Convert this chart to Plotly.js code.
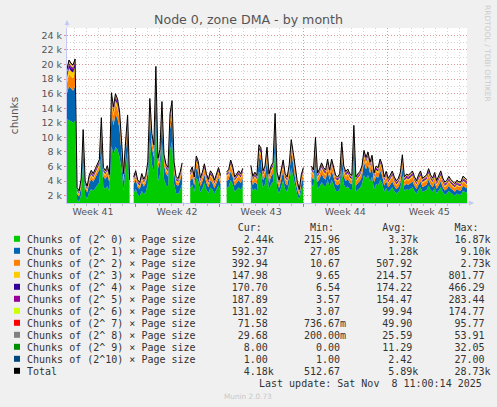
<!DOCTYPE html>
<html><head><meta charset="utf-8">
<script src="https://cdn.plot.ly/plotly-3.0.1.min.js"></script>
<style>html,body{margin:0;padding:0;background:#F0F0F0;}#chart{width:497px;height:407px;}</style>
</head><body><div id="chart"></div>
<script>
const seriesNames = ['Chunks of (2^ 0) × Page size','Chunks of (2^ 1) × Page size','Chunks of (2^ 2) × Page size','Chunks of (2^ 3) × Page size','Chunks of (2^ 4) × Page size','Chunks of (2^ 5) × Page size','Chunks of (2^ 6) × Page size','Chunks of (2^ 7) × Page size','Chunks of (2^ 8) × Page size','Chunks of (2^ 9) × Page size','Chunks of (2^10) × Page size','Total'];
const seriesColors = ['#00CC00','#0066B3','#FF8000','#FFCC00','#330099','#990099','#CCFF00','#FF0000','#808080','#008F00','#00487D','#000000'];

const c0 = [12500,12400,12200,12000,12300,1440,1180,2180,6700,1980,
1580,2520,2920,2650,3050,3520,3860,7820,3190,2920,
3320,2580,8800,7660,8670,8290,7350,5650,2650,5580,
8100,2110,null,2380,2920,2110,1910,2650,2180,2520,
3650,9640,6350,5300,12650,3990,4880,9360,4320,3450,
3190,8240,9430,3650,2380,2250,2780,3590,null,null,
null,3060,3490,2560,4480,3980,2490,2990,3770,2850,
2360,3130,2850,2280,2850,3420,2710,null,null,3060,
3200,4130,3560,2560,2850,3140,2850,3340,null,null,
null,3630,2630,2990,2710,5300,5020,3140,3560,5090,
2850,3560,3910,8240,2990,2280,3200,4130,2850,2560,
3700,5790,4600,3200,2140,1430,2780,3420,null,null,
null,3560,3200,6000,2920,3270,3850,3420,3200,4200,
3200,4200,3560,2710,2560,2850,5580,3560,3070,3270,
2850,2710,7120,2560,2850,3070,3560,4810,4340,4840,
3910,4560,2920,3560,3420,4200,3700,2560,3070,2510,
2800,3160,2660,2290,2510,3020,4700,2660,2870,2800,
2950,3160,2660,2290,2800,3160,2510,2660,2800,3390,
2800,2510,3020,2290,2660,3160,2510,2140,2290,2660,
2370,2140,2000,2290,2140,2140,2660,2510,2440];

const c1 = [3600,4600,4500,4400,4700,800,700,1080,2420,1000,
850,1200,1350,1250,1400,1580,1700,2770,1450,1350,
1500,1230,4500,4000,4450,4280,3860,2090,1250,2070,
2860,1050,null,1150,1350,1050,980,1250,1080,1200,
1630,3340,2310,1980,4290,1750,1850,3260,1880,1550,
1450,2900,3280,1630,1150,1100,1300,1600,null,null,
null,950,1060,830,1310,1190,810,940,1130,900,
770,970,900,760,900,1040,860,null,null,950,
990,1220,1080,830,900,970,900,1030,null,null,
null,1100,850,940,860,1980,1890,970,1080,1910,
900,1080,1170,2900,940,760,990,1220,900,830,
1120,2130,1760,990,720,540,880,1040,null,null,
null,1080,990,2200,920,1010,1150,1040,990,1240,
990,1240,1080,860,830,900,2070,1080,950,1010,
900,860,2550,830,900,950,1080,1830,1280,1400,
1170,1330,920,1080,1040,1240,1120,830,950,660,
720,800,690,620,660,770,1300,690,740,720,
750,800,690,620,720,800,660,690,720,840,
720,660,770,620,690,800,660,590,620,690,
630,590,560,620,590,590,690,660,592];

const c2 = [1400,1700,1600,1700,1900,260,220,340,880,320,
270,380,430,400,450,500,540,1010,460,430,
480,390,1450,1290,1430,1380,1240,760,400,750,
1040,340,null,370,430,340,310,400,340,380,
520,1220,840,720,1560,560,670,1180,600,500,
460,1060,1190,520,370,350,420,510,null,null,
null,580,650,510,800,730,500,570,690,550,
470,590,550,460,550,640,530,null,null,580,
610,750,660,510,550,590,550,630,null,null,
null,670,520,570,530,720,690,590,660,700,
550,660,720,1060,570,460,610,750,550,510,
680,780,640,610,440,330,540,640,null,null,
null,660,610,800,560,620,700,640,610,760,
610,760,660,530,510,550,750,660,580,620,
550,530,930,510,550,580,660,660,780,860,
720,810,560,660,640,760,680,510,580,530,
580,640,550,490,530,610,700,550,590,580,
600,640,550,490,580,640,530,550,580,670,
580,530,610,490,550,640,530,470,490,550,
500,470,440,490,470,470,550,530,393];

const c3 = [780,800,760,790,740,190,170,210,350,200,
180,220,240,230,250,270,260,360,240,230,
250,210,500,450,520,480,420,330,220,320,
360,200,null,210,230,190,180,220,200,210,
260,380,330,310,420,270,300,370,280,250,
240,360,380,260,210,200,220,250,null,null,
null,220,240,200,280,260,200,220,250,210,
190,220,210,180,210,240,200,null,null,220,
230,260,240,200,210,220,210,230,null,null,
null,240,200,220,200,320,310,220,240,310,
210,240,250,360,220,180,230,260,210,200,
240,320,300,220,180,150,210,230,null,null,
null,240,220,330,210,230,250,230,220,260,
220,260,240,200,190,210,320,240,220,230,
210,200,350,190,210,220,240,300,270,290,
250,280,210,240,230,260,240,190,220,180,
200,220,190,170,180,210,280,190,200,200,
210,220,190,170,200,220,180,190,200,230,
200,180,210,170,190,220,180,160,170,190,
170,160,150,170,160,160,190,180,148];

const c4 = [440,460,450,430,455,150,140,170,260,160,
150,180,190,180,200,210,200,270,190,180,
200,170,330,300,350,320,280,240,180,240,
260,160,null,170,180,160,150,180,160,170,
200,280,250,240,300,210,230,270,220,200,
190,260,280,200,170,160,180,200,null,null,
null,170,180,160,200,190,160,170,190,170,
150,170,170,150,170,180,160,null,null,170,
180,190,180,160,170,170,170,180,null,null,
null,180,160,170,160,240,230,170,180,230,
170,180,190,260,170,150,180,190,170,160,
180,240,220,170,150,130,170,180,null,null,
null,180,170,240,170,180,190,180,170,190,
170,190,180,160,160,170,240,180,170,180,
170,160,250,160,170,170,180,220,200,210,
190,200,170,180,180,190,180,160,170,160,
170,180,160,150,160,170,210,160,170,170,
170,180,160,150,170,180,160,160,170,180,
170,160,170,150,160,180,160,150,150,160,
160,150,150,160,150,150,170,165,171];

const c5 = [270,280,275,265,283,130,120,140,200,140,
130,150,160,150,160,170,170,210,160,150,
170,150,240,220,250,230,210,190,150,190,
200,140,null,140,150,140,130,150,140,150,
170,210,200,190,230,170,180,210,180,170,
160,200,210,170,150,140,150,170,null,null,
null,150,160,140,170,160,140,150,160,150,
140,150,150,130,150,160,140,null,null,150,
150,160,160,140,150,150,150,160,null,null,
null,160,140,150,140,190,190,150,160,190,
150,160,160,210,150,140,150,160,150,140,
160,190,180,150,140,120,150,160,null,null,
null,160,150,190,150,160,170,160,150,170,
150,170,160,150,150,150,190,160,150,160,
150,150,200,150,150,160,160,180,170,180,
170,170,160,160,160,170,160,150,160,160,
160,170,160,150,160,170,190,160,170,170,
170,180,160,150,170,180,160,170,170,180,
170,160,180,160,170,180,170,160,170,180,
170,170,160,170,170,170,180,180,188];

const c6 = [165,170,175,168,172,80,75,90,130,90,
85,95,100,95,100,110,105,130,100,95,
105,95,150,140,155,145,135,120,95,120,
130,90,null,90,95,90,85,95,90,95,
110,135,125,120,145,105,115,135,110,105,
100,130,135,110,95,90,95,105,null,null,
null,95,100,90,110,105,90,95,100,95,
90,95,95,85,95,100,90,null,null,95,
95,100,100,90,95,95,95,100,null,null,
null,100,90,95,90,120,120,95,100,120,
95,100,100,130,95,90,95,100,95,90,
100,120,115,95,90,80,95,100,null,null,
null,100,95,120,95,100,105,100,95,105,
95,105,100,95,95,95,120,100,95,100,
95,95,125,95,95,100,100,115,110,115,
105,110,100,105,100,110,105,95,100,100,
105,110,100,95,100,110,125,100,110,110,
110,115,105,100,110,115,105,110,110,120,
115,110,120,110,115,120,115,110,115,120,
120,115,110,120,120,120,125,125,131];

const c7 = [90,95,92,88,94,40,38,45,70,45,
42,48,50,48,50,55,52,70,50,48,
52,48,80,75,82,78,70,62,48,62,
68,45,null,45,48,45,42,48,45,48,
55,70,65,62,75,52,58,70,55,52,
50,68,70,55,48,45,48,52,null,null,
null,48,50,45,55,52,45,48,50,48,
45,48,48,42,48,50,45,null,null,48,
48,50,50,45,48,48,48,50,null,null,
null,50,45,48,45,62,62,48,50,62,
48,50,50,68,48,45,48,50,48,45,
50,62,58,48,45,40,48,50,null,null,
null,50,48,62,48,50,52,50,48,52,
48,52,50,48,48,48,62,50,48,50,
48,48,65,48,48,50,50,58,55,58,
52,55,50,52,50,55,52,48,50,52,
55,58,52,50,52,58,65,52,58,58,
58,60,55,52,58,60,55,58,58,62,
60,58,62,58,60,62,60,58,60,62,
62,60,58,62,62,62,66,66,72];

const c8 = [50,52,48,54,51,20,18,22,38,22,
20,24,25,24,25,28,26,38,25,24,
26,24,45,40,48,42,38,32,24,32,
36,22,null,22,24,22,20,24,22,24,
28,38,34,32,40,26,30,36,28,26,
25,35,36,28,24,22,24,26,null,null,
null,24,25,22,28,26,22,24,25,24,
22,24,24,21,24,25,22,null,null,24,
24,25,25,22,24,24,24,25,null,null,
null,25,22,24,22,32,32,24,25,32,
24,25,25,36,24,22,24,25,24,22,
25,32,30,24,22,20,24,25,null,null,
null,25,24,32,24,25,26,25,24,26,
24,26,25,24,24,24,32,25,24,25,
24,24,34,24,24,25,25,30,28,30,
26,28,25,26,25,28,26,24,25,26,
26,28,26,25,26,28,32,26,28,28,
28,29,27,26,28,29,27,28,28,30,
29,28,30,28,29,30,29,28,29,30,
30,29,28,30,30,30,31,31,30];

const c9 = [28,30,32,29,27,9,8,10,18,10,
9,11,12,11,12,13,12,18,12,11,
12,11,22,20,25,18,16,15,11,15,
17,10,null,10,11,10,9,11,10,11,
13,18,16,15,20,12,14,17,13,12,
12,16,17,13,11,10,11,12,null,null,
null,11,12,10,13,12,10,11,12,11,
10,11,11,10,11,12,10,null,null,11,
11,12,12,10,11,11,11,12,null,null,
null,12,10,11,10,15,15,11,12,15,
11,12,12,17,11,10,11,12,11,10,
12,15,14,11,10,9,11,12,null,null,
null,12,11,15,11,12,12,12,11,12,
11,12,12,11,11,11,15,12,11,12,
11,11,16,11,11,12,12,14,13,14,
12,13,12,12,12,13,12,11,12,10,
10,11,10,9,10,11,13,10,10,10,
10,11,10,9,10,11,9,10,10,11,
10,9,10,9,9,10,9,8,9,9,
9,8,8,9,8,8,9,8,8];

const c10 = [20,27,22,18,25,2,2,2,5,2,
2,2,3,2,3,3,3,5,3,2,
3,2,8,6,10,7,5,4,2,4,
5,2,null,2,2,2,2,2,2,2,
3,5,4,4,6,3,3,5,3,3,
2,4,5,3,2,2,2,2,null,null,
null,2,2,2,2,2,2,2,2,2,
2,2,2,1,2,2,2,null,null,2,
2,2,2,2,2,2,2,2,null,null,
null,2,1,2,2,3,3,2,2,3,
2,2,2,4,2,1,2,2,2,1,
2,3,3,2,1,1,2,2,null,null,
null,2,2,3,2,2,2,2,2,2,
2,2,2,1,1,2,3,2,2,2,
2,1,3,1,2,2,2,3,2,2,
2,2,2,2,2,2,2,1,2,1,
1,1,1,1,1,1,2,1,1,1,
1,1,1,1,1,1,1,1,1,1,
1,1,1,1,1,1,1,1,1,1,
1,1,1,1,1,1,1,1,1];

const statCur = [2440,592.37,392.94,147.98,170.70,187.89,131.02,71.58,29.68,8.00,1.00,4180];
const statMin = [215.96,27.05,10.67,9.65,6.54,3.57,3.07,0.73667,0.2,0,1.00,512.67];
const statAvg = [3370,1280,507.92,214.57,174.22,154.47,99.94,49.90,25.59,11.29,2.42,5890];
const statMax = [16870,9100,2730,801.77,466.29,283.44,174.77,95.77,53.91,32.05,27.00,28730];

const weekLabels = ['Week 41','Week 42','Week 43','Week 44','Week 45'];
const weekLabelDates = ['2025-10-08 12:00','2025-10-15 12:00','2025-10-22 12:00','2025-10-29 12:00','2025-11-05 12:00'];
const weekStarts = ['2025-10-12','2025-10-19','2025-10-26','2025-11-02'];
const yTickVals = [2000,4000,6000,8000,10000,12000,14000,16000,18000,20000,22000,24000];
const yTickText = ['2 k','4 k','6 k','8 k','10 k','12 k','14 k','16 k','18 k','20 k','22 k','24 k'];
const xStart = '2025-10-06 08:07';
const xEnd = '2025-11-08 15:25';
const lastUpdate = 'Last update: Sat Nov  8 11:00:14 2025';

const series = [c0,c1,c2,c3,c4,c5,c6,c7,c8,c9,c10];
const N = c0.length;
const t0 = Date.parse(xStart.replace(' ','T')+':00Z');
const t1 = Date.parse(xEnd.replace(' ','T')+':00Z');
const stepMs = (t1 - t0) / (N - 1);
const times = [];
for (let i = 0; i < N; i++) times.push(new Date(t0 + i*stepMs).toISOString().replace('T',' ').slice(0,19));

const isGap = i => series.some(s => s[i] === null || s[i] === undefined);
const areaTraces = [];
const totalTraces = [];
let i = 0;
while (i < N) {
  if (isGap(i)) { i++; continue; }
  let j = i;
  while (j < N && !isGap(j)) j++;
  const xs = times.slice(i, j);
  const cum = new Array(j - i).fill(0);
  series.forEach((s, k) => {
    for (let m = i; m < j; m++) cum[m - i] += s[m];
    areaTraces.push({x: xs, y: cum.slice(), type: 'scatter', mode: 'lines',
      line: {width: 0, color: seriesColors[k]}, fill: k === 0 ? 'tozeroy' : 'tonexty',
      fillcolor: seriesColors[k], showlegend: false, hoverinfo: 'skip'});
  });
  totalTraces.push({x: xs, y: cum.slice(), type: 'scatter', mode: 'lines', xaxis: 'x2', yaxis: 'y',
    line: {width: 1, color: '#000000'}, showlegend: false, hoverinfo: 'skip'});
  i = j;
}
const traces = areaTraces.concat(totalTraces);

// legend table as text
const W = 400, H = 175, L = 67, T = 28;
const px = x => (x - L) / W;
const py = y => (T + H - y) / H;
const nb = s => s.replace(/ /g, '\u00A0');
function fmt(v) {
  let num, suf;
  if (v >= 1000) { num = (v/1000).toFixed(2); suf = 'k'; }
  else if (v > 0 && v < 1) { num = (v*1000).toFixed(2); suf = 'm'; }
  else { num = v.toFixed(2); suf = ' '; }
  return num.padStart(11) + suf;
}
const annotations = [];
const shapes = [];
const textFont = {family: 'DejaVu Sans Mono', size: 10, color: '#333333'};
const header = ' '.repeat(29) + ['Cur:','Min:','Avg:','Max:'].map(h => h.padStart(10) + '  ').join('');
const rowY0 = 227.3, rowStep = 12;
annotations.push({xref:'paper', yref:'paper', x: px(25.3), y: py(rowY0), xanchor:'left', yanchor:'middle', showarrow:false, text: nb(header), font: textFont});
seriesNames.forEach((n, k) => {
  const yc = rowY0 + rowStep*(k+1);
  const row = n.padEnd(28) + ' ' + fmt(statCur[k]) + fmt(statMin[k]) + fmt(statAvg[k]) + fmt(statMax[k]);
  annotations.push({xref:'paper', yref:'paper', x: px(25.3), y: py(yc), xanchor:'left', yanchor:'middle', showarrow:false, text: nb(row), font: textFont});
  shapes.push({type:'rect', xref:'paper', yref:'paper', x0: px(14), x1: px(20), y0: py(yc-3.5), y1: py(yc+2.5), fillcolor: seriesColors[k], line:{width:0}});
});
annotations.push({xref:'paper', yref:'paper', x: px(483.5), y: py(rowY0 + rowStep*13), xanchor:'right', yanchor:'middle', showarrow:false, text: nb(lastUpdate), font: textFont});
annotations.push({xref:'paper', yref:'paper', x: px(248), y: py(396), xanchor:'center', yanchor:'middle', showarrow:false, text: 'Munin 2.0.73', font: {family:'DejaVu Sans', size: 7.3, color:'#c8c8c8'}});
annotations.push({xref:'paper', yref:'paper', x: px(487.5), y: py(53.5), xanchor:'center', yanchor:'middle', showarrow:false, textangle: 90, text: 'RRDTOOL / TOBI OETIKER', font: {family:'DejaVu Sans', size: 7.5, color:'#cccccc'}});
annotations.push({xref:'paper', yref:'paper', x: px(474), y: 0, ax: -8, ay: 0, showarrow: true, arrowhead: 2, arrowsize: 1, arrowwidth: 1, arrowcolor: '#c4c8f4', text: ''});
annotations.push({xref:'paper', yref:'paper', x: 0, y: py(20), ax: 0, ay: 8, showarrow: true, arrowhead: 2, arrowsize: 1, arrowwidth: 1, arrowcolor: '#c4c8f4', text: ''});

const axisLine = '#c4c8f4';
const layout = {
  width: 497, height: 407,
  margin: {l: L, r: 497 - L - W, t: T, b: 407 - T - H, pad: 0},
  paper_bgcolor: '#F0F0F0', plot_bgcolor: '#FFFFFF',
  font: {family: 'DejaVu Sans', color: '#555555'},
  showlegend: false,
  title: {text: 'Node 0, zone DMA - by month', font: {family: 'DejaVu Sans', size: 12.6, color: '#555555'},
    xref: 'container', x: 0.5, xanchor: 'center', yref: 'container', y: 1 - 20/407, yanchor: 'middle'},
  xaxis: {type: 'date', range: [xStart, xEnd], tickmode: 'array', tickvals: weekLabelDates, ticktext: weekLabels,
    showgrid: false, zeroline: false, ticks: '', showline: true, linecolor: axisLine, linewidth: 1,
    tickfont: {family: 'DejaVu Sans', size: 9.5, color: '#555555'}, fixedrange: true},
  xaxis2: {type: 'date', range: [xStart, xEnd], overlaying: 'x', anchor: 'y', side: 'bottom',
    tickmode: 'array', tickvals: weekStarts, showticklabels: false, showgrid: true,
    gridcolor: 'rgba(225,100,100,0.55)', griddash: '1px,2px', gridwidth: 1,
    ticks: 'outside', ticklen: 3, tickcolor: 'rgba(225,80,80,0.8)', zeroline: false, showline: false,
    minor: {tick0: '2025-10-06', dtick: 86400000, showgrid: true, gridcolor: '#d4d4d4', griddash: '1px,2px', gridwidth: 1,
      ticks: 'outside', ticklen: 2, tickcolor: '#bbbbbb'}, fixedrange: true},
  yaxis: {range: [1000, 25000], tickmode: 'array', tickvals: yTickVals, ticktext: yTickText,
    showgrid: true, gridcolor: 'rgba(225,100,100,0.55)', griddash: '1px,2px', gridwidth: 1,
    minor: {tick0: 1000, dtick: 1000, showgrid: true, gridcolor: '#d4d4d4', griddash: '1px,2px', gridwidth: 1},
    zeroline: false, showline: true, linecolor: axisLine, linewidth: 1, ticks: 'outside', ticklen: 2, tickcolor: 'rgba(225,100,100,0.7)',
    tickfont: {family: 'DejaVu Sans', size: 9.5, color: '#555555'},
    title: {text: 'chunks', font: {family: 'DejaVu Sans', size: 10.5, color: '#555555'}, standoff: 20}, fixedrange: true},
  annotations: annotations,
  shapes: shapes
};
Plotly.newPlot('chart', traces, layout, {displayModeBar: false, staticPlot: true});
</script>
</body></html>
